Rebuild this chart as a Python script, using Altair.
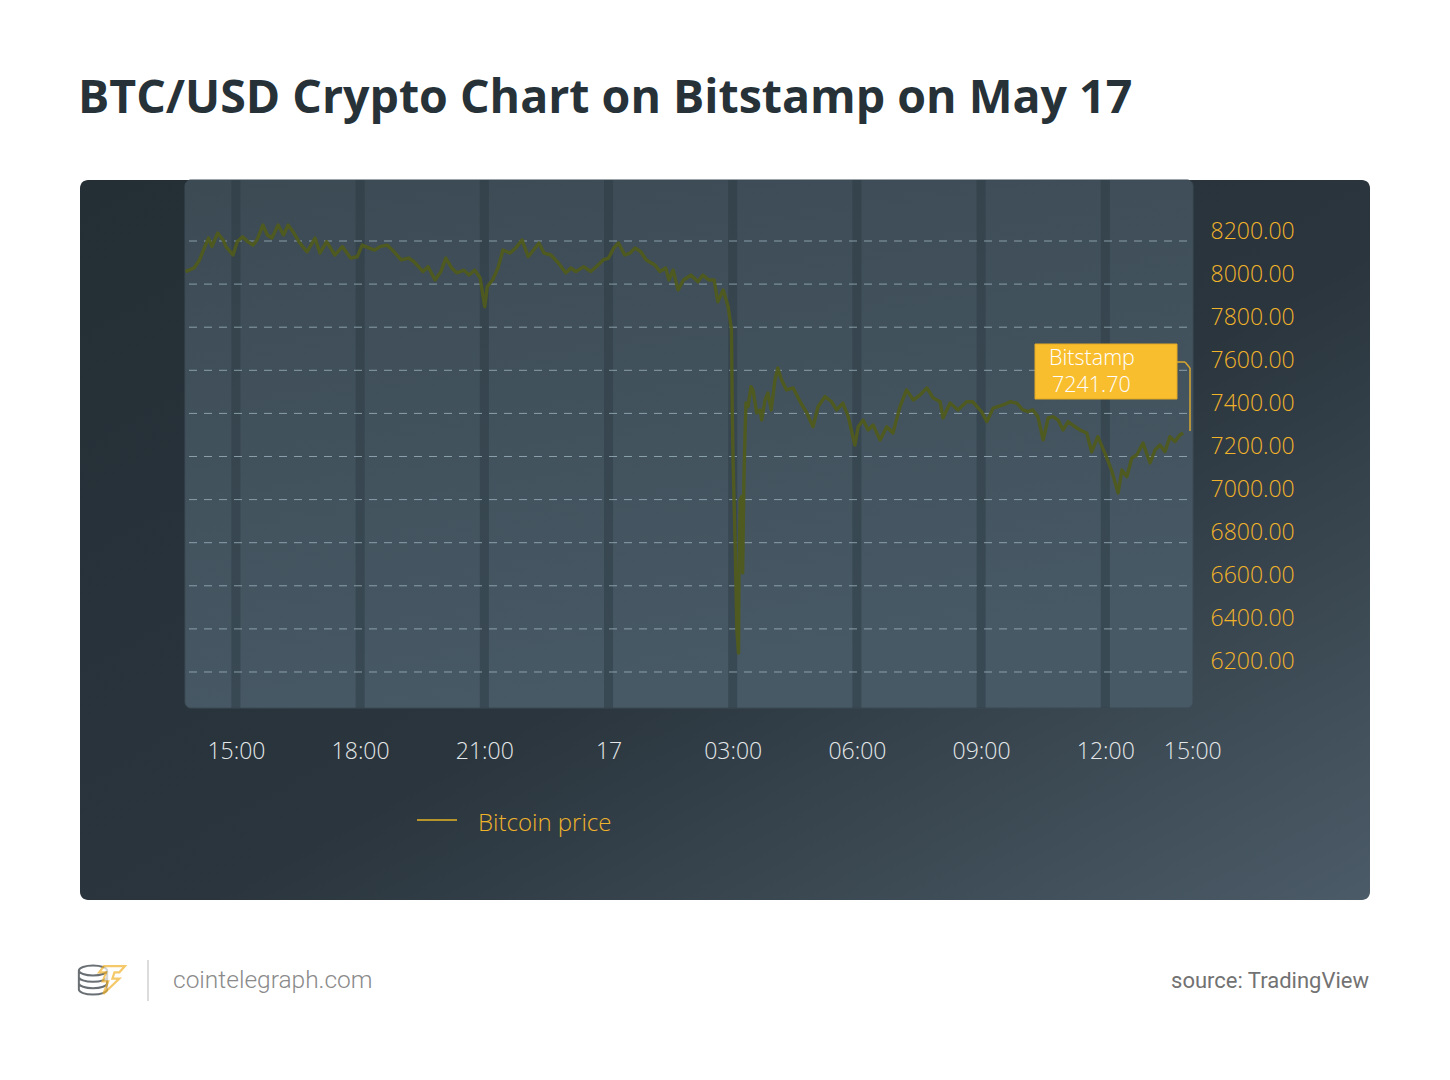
import altair as alt
import pandas as pd

# ---------------- data ----------------
# hours relative to 17 May 00:00, BTC/USD price on Bitstamp
hours = [-10.22, -10.01, -9.88, -9.75, -9.66, -9.58, -9.44, -9.31, -9.24, -9.07,
         -8.97, -8.84, -8.71, -8.59, -8.49, -8.35, -8.24, -8.13, -7.98, -7.85,
         -7.74, -7.60, -7.46, -7.28, -7.09, -6.97, -6.81, -6.61, -6.43, -6.23,
         -6.07, -5.95, -5.79, -5.65, -5.52, -5.35, -5.18, -5.01, -4.83, -4.70,
         -4.48, -4.36, -4.19, -4.05, -3.93, -3.79, -3.66, -3.49, -3.37, -3.23,
         -3.10, -2.99, -2.93, -2.80, -2.67, -2.55, -2.38, -2.24, -2.09, -1.94,
         -1.81, -1.68, -1.56, -1.39, -1.21, -1.03, -0.91, -0.79, -0.60, -0.43,
         -0.25, -0.13, 0.00, 0.13, 0.24, 0.39, 0.52, 0.64, 0.78, 0.91,
         1.12, 1.24, 1.38, 1.46, 1.56, 1.68, 1.81, 1.99, 2.16, 2.28,
         2.42, 2.55, 2.64, 2.77, 2.89, 2.97, 2.99, 3.01, 3.06, 3.10,
         3.14, 3.15, 3.18, 3.22, 3.24, 3.27, 3.30, 3.32, 3.37, 3.44,
         3.49, 3.58, 3.66, 3.70, 3.78, 3.85, 3.93, 4.02, 4.09, 4.18,
         4.30, 4.46, 4.63, 4.79, 4.94, 5.06, 5.23, 5.39, 5.51, 5.66,
         5.79, 5.95, 6.03, 6.15, 6.27, 6.39, 6.56, 6.72, 6.87, 7.04,
         7.20, 7.36, 7.52, 7.69, 7.84, 8.01, 8.08, 8.25, 8.44, 8.65,
         8.80, 9.01, 9.14, 9.29, 9.53, 9.70, 9.86, 10.01, 10.13, 10.25,
         10.37, 10.50, 10.62, 10.74, 10.86, 10.98, 11.10, 11.27, 11.39, 11.55,
         11.67, 11.82, 11.99, 12.15, 12.31, 12.40, 12.52, 12.64, 12.76, 12.91,
         13.08, 13.20, 13.32, 13.44, 13.56, 13.68, 13.80, 13.88]
prices = [8058, 8075, 8112, 8174, 8214, 8174, 8237, 8205, 8174, 8135,
          8197, 8220, 8197, 8181, 8205, 8274, 8228, 8214, 8274, 8228,
          8274, 8237, 8191, 8150, 8214, 8144, 8197, 8135, 8174, 8121,
          8127, 8181, 8168, 8158, 8174, 8181, 8150, 8112, 8121, 8104,
          8058, 8081, 8019, 8058, 8121, 8075, 8052, 8065, 8042, 8065,
          8028, 7895, 7988, 8019, 8075, 8158, 8144, 8168, 8205, 8127,
          8158, 8191, 8144, 8135, 8098, 8052, 8075, 8058, 8081, 8058,
          8089, 8112, 8121, 8168, 8191, 8135, 8144, 8168, 8150, 8112,
          8089, 8058, 8075, 8019, 8065, 7973, 8019, 8042, 8011, 8042,
          8019, 8019, 7918, 7973, 7895, 7787, 7402, 7170, 6782, 6395,
          6288, 6627, 6998, 7014, 6660, 7091, 7323, 7448, 7431, 7524,
          7509, 7402, 7416, 7369, 7462, 7495, 7416, 7555, 7611, 7555,
          7509, 7518, 7454, 7402, 7338, 7431, 7478, 7454, 7416, 7448,
          7385, 7253, 7338, 7369, 7323, 7346, 7277, 7338, 7309, 7431,
          7509, 7462, 7485, 7518, 7472, 7454, 7379, 7448, 7416, 7454,
          7454, 7408, 7362, 7425, 7439, 7454, 7448, 7416, 7408, 7416,
          7385, 7277, 7379, 7385, 7369, 7323, 7362, 7338, 7323, 7309,
          7222, 7292, 7216, 7137, 7031, 7137, 7106, 7193, 7207, 7263,
          7170, 7230, 7253, 7222, 7292, 7269, 7300, 7309]

price_ticks = [6200, 6400, 6600, 6800, 7000, 7200, 7400, 7600, 7800, 8000, 8200]
time_ticks = [-9, -6, -3, 0, 3, 6, 9, 12, 14.1]
time_labels = ["15:00", "18:00", "21:00", "17", "03:00", "06:00", "09:00", "12:00", "15:00"]
session_marks = [-9, -6, -3, 0, 3, 6, 9, 12]

title_text = "BTC/USD Crypto Chart on Bitstamp on May 17"
series_name = "Bitcoin price"
exchange_name = "Bitstamp"
last_price = "7241.70"
site_text = "cointelegraph.com"
source_text = "source: TradingView"

# ---------------- chart ----------------
W, H = 1008, 528
FONT = "Open Sans"

line_df = pd.DataFrame({"h": hours, "p": prices})
grid_df = pd.DataFrame({"p": price_ticks})
band_df = pd.DataFrame({"h": session_marks})
one = pd.DataFrame({"k": [0]})

xscale = alt.Scale(domain=[-10.23, 14.118], nice=False, zero=False)
yscale = alt.Scale(domain=[6032.9, 8483.1], nice=False, zero=False)

label_expr = " : ".join(
    f"datum.value == {v} ? '{t}'" for v, t in zip(time_ticks, time_labels)
) + " : ''"

xaxis = alt.Axis(values=time_ticks, labelExpr=label_expr, domain=False, ticks=False,
                 grid=False, labelColor="#e4e8ea", labelFont=FONT, labelFontSize=23,
                 labelFontWeight=300, labelPadding=32, labelOverlap=False,
                 labelFlush=False, labelBound=False, title=None, zindex=2)
yaxis = alt.Axis(values=price_ticks, format=".2f", orient="right", domain=False,
                 ticks=False, grid=False, labelColor="#f2b32a", labelFont=FONT,
                 labelFontSize=23, labelFontWeight=300, labelPadding=17,
                 labelOffset=-10, labelAlign="left", labelOverlap=False,
                 labelFlush=False, labelBound=False, title=None, zindex=2)

card_grad = {"gradient": "linear", "x1": 0, "y1": 0, "x2": 1, "y2": 1,
             "stops": [{"offset": 0, "color": "#242e35"},
                       {"offset": 0.55, "color": "#2a353d"},
                       {"offset": 1, "color": "#4b5b67"}]}
panel_grad = {"gradient": "linear", "x1": 0, "y1": 0, "x2": 0.3, "y2": 1,
              "stops": [{"offset": 0, "color": "#3c4a54"},
                        {"offset": 1, "color": "#475965"}]}

card = alt.Chart(one).mark_rect(fill=card_grad, cornerRadius=8).encode(
    x=alt.value(-105), x2=alt.value(1185), y=alt.value(0), y2=alt.value(720))
panel = alt.Chart(one).mark_rect(fill=panel_grad, cornerRadius=6,
                                 stroke="#3d4b55", strokeWidth=1).encode(
    x=alt.value(0), x2=alt.value(W), y=alt.value(0), y2=alt.value(H))

bands = alt.Chart(band_df).mark_rule(strokeWidth=9, color="#2c3942", opacity=0.5).encode(
    x=alt.X("h:Q", scale=xscale, axis=xaxis), y=alt.value(0), y2=alt.value(H))

grid = alt.Chart(grid_df).mark_rule(strokeDash=[8, 7], color="#a3bac4", strokeWidth=1,
                                    opacity=0.75).encode(
    y=alt.Y("p:Q", scale=yscale, axis=yaxis), x=alt.value(4), x2=alt.value(W))

line = alt.Chart(line_df).mark_line(color="#505b1d", strokeWidth=3.4, opacity=0.95,
                                    strokeJoin="round").encode(
    x=alt.X("h:Q", scale=xscale, axis=xaxis),
    y=alt.Y("p:Q", scale=yscale, axis=yaxis))

# annotation box
ann_box = alt.Chart(one).mark_rect(fill="#f8be2e", stroke="#e3aa25", strokeWidth=1).encode(
    x=alt.value(850), x2=alt.value(992), y=alt.value(164), y2=alt.value(219))
ann_t1 = alt.Chart(one).mark_text(text=exchange_name, font=FONT, fontSize=21.5, fontWeight=300,
                                  color="#ffffff", align="left", baseline="alphabetic").encode(
    x=alt.value(864), y=alt.value(185))
ann_t2 = alt.Chart(one).mark_text(text=last_price, font=FONT, fontSize=21.5, fontWeight=300,
                                  color="#ffffff", align="left", baseline="alphabetic").encode(
    x=alt.value(867), y=alt.value(212))
conn1 = alt.Chart(one).mark_rule(color="#d9a730", strokeWidth=1.5).encode(
    x=alt.value(992), x2=alt.value(1000), y=alt.value(182), y2=alt.value(182))
conn2 = alt.Chart(one).mark_rule(color="#d9a730", strokeWidth=1.5).encode(
    x=alt.value(1000), x2=alt.value(1005), y=alt.value(182), y2=alt.value(188))
conn3 = alt.Chart(one).mark_rule(color="#d9a730", strokeWidth=1.5).encode(
    x=alt.value(1005), x2=alt.value(1005), y=alt.value(188), y2=alt.value(251))

# legend
leg_line = alt.Chart(one).mark_rule(color="#b8942c", strokeWidth=2).encode(
    x=alt.value(232), x2=alt.value(272), y=alt.value(640), y2=alt.value(640))
leg_text = alt.Chart(one).mark_text(text=series_name, font=FONT, fontSize=24, fontWeight=300,
                                    color="#f0b42b", align="left", baseline="alphabetic").encode(
    x=alt.value(293), y=alt.value(651))

# title and footer
title = alt.Chart(one).mark_text(text=title_text, font=FONT, fontSize=46.5, fontWeight="bold",
                                 color="#263238", align="left", baseline="alphabetic").encode(
    x=alt.value(-107), y=alt.value(-67))
site = alt.Chart(one).mark_text(text=site_text, font="Roboto", fontSize=24.5, fontWeight=300,
                                color="#8a8a8a", align="left", baseline="alphabetic").encode(
    x=alt.value(-12), y=alt.value(808))
sep = alt.Chart(one).mark_rule(color="#c4c4c4", strokeWidth=1.2).encode(
    x=alt.value(-37), x2=alt.value(-37), y=alt.value(780), y2=alt.value(821))
source = alt.Chart(one).mark_text(text=source_text, font="Roboto", fontSize=22, fontWeight=400,
                                  color="#727272", align="right", baseline="alphabetic").encode(
    x=alt.value(1184), y=alt.value(808))

coins_path = ("M -1 -0.6 A 1 0.35 0 1 1 1 -0.6 A 1 0.35 0 1 1 -1 -0.6 "
              "M -1 -0.6 L -1 0.75 A 1 0.35 0 0 0 1 0.75 L 1 -0.6 "
              "M -1 -0.15 A 1 0.35 0 0 0 1 -0.15 M -1 0.3 A 1 0.35 0 0 0 1 0.3")
bolt_path = ("M -0.5 -1 L 1 -1 L 0.6 -0.55 L 0.25 -0.55 L 0.1 -0.1 L 0.6 -0.1 "
             "L -0.55 1 L -0.2 0.1 L -0.6 0.1 L -0.35 -0.55 L -0.85 -0.55 Z")
coins = alt.Chart(one).mark_point(shape=coins_path, filled=False, stroke="#2b3339",
                                  strokeWidth=2, size=800).encode(
    x=alt.value(-92), y=alt.value(799))
bolt = alt.Chart(one).mark_point(shape=bolt_path, filled=True, fill="#ffffff",
                                 stroke="#f2b32a", strokeWidth=2.2, size=780).encode(
    x=alt.value(-74), y=alt.value(800))

chart = alt.layer(
    card, panel, bands, grid, line,
    ann_box, ann_t1, ann_t2, conn1, conn2, conn3,
    leg_line, leg_text, title, site, sep, source, coins, bolt
).properties(
    width=W, height=H,
    padding={"left": 177, "top": 172, "right": 249, "bottom": 364},
    autosize=alt.AutoSizeParams(type="none"),
    background="#ffffff",
).configure_view(stroke=None)

chart.save("out.html", embed_options={"renderer": "svg", "actions": False})
